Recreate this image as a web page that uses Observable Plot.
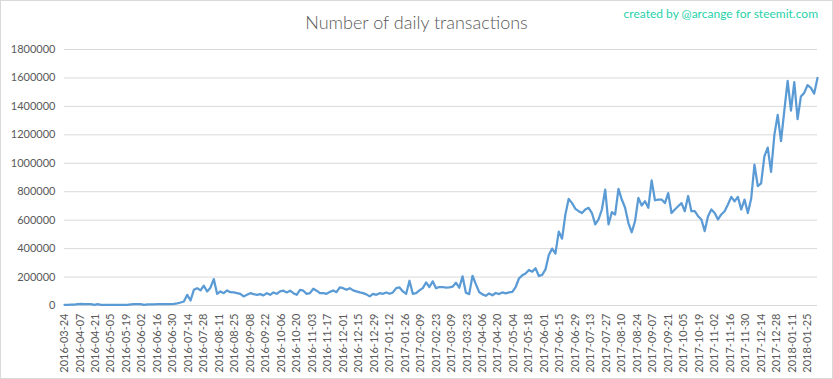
<!DOCTYPE html>
<html>
<head>
<meta charset="utf-8">
<script src="https://cdn.jsdelivr.net/npm/d3@7"></script>
<script src="https://cdn.jsdelivr.net/npm/@observablehq/plot@0.6"></script>
<style>
  html, body { margin: 0; padding: 0; background: #fff; }
  #chart { position: relative; width: 833px; height: 379px; overflow: hidden; font-family: Lato, "Open Sans", sans-serif; }
  #frame { position: absolute; inset: 0; border: 1px solid #d9d9d9; box-sizing: border-box; pointer-events: none; }
  #header { position: relative; height: 40px; }
  #title { position: absolute; left: 0; right: 0; top: 11px; text-align: center; font-size: 18px; font-weight: 300; color: #595959; }
  #credit { position: absolute; right: 15px; top: 6px; font-size: 12px; color: #1fd2a9; }
  svg { display: block; }
</style>
</head>
<body>
<div id="chart">
  <div id="header">
    <div id="title">Number of daily transactions</div>
    <div id="credit">created by @arcange for steemit.com</div>
  </div>
  <div id="plot"></div>
  <div id="frame"></div>
</div>
<script>
// Series: daily transactions sampled every 3 days starting 2016-03-24
const startDate = "2016-03-24";
const stepDays = 3;
const transactions = [
  5000,5000,6000,6000,10000,11000,10000,9000,10000,5000,
  9000,4000,4000,4000,4000,4000,4000,4000,5000,5000,
  8000,10000,10000,9000,5000,8000,8000,8000,9000,9000,
  9000,9000,10000,12000,
  15000,21000,28000,75000,35000,110000,122000,106000,139000,99000,
  125000,186000,82000,99000,87000,106000,94000,92000,87000,82000,
  64000,75000,87000,80000,75000,80000,71000,87000,75000,92000,
  82000,99000,104000,92000,104000,87000,75000,110000,104000,82000,
  87000,118000,104000,87000,
  87000,82000,96000,106000,94000,127000,122000,110000,122000,106000,
  99000,92000,87000,78000,64000,82000,75000,87000,82000,92000,
  82000,92000,122000,127000,99000,82000,174000,82000,87000,106000,
  122000,162000,130000,170000,122000,130000,
  130000,125000,128000,132000,160000,125000,205000,90000,80000,209000,
  150000,95000,78000,68000,85000,72000,88000,80000,92000,85000,
  92000,95000,130000,190000,212000,225000,250000,238000,262000,207000,
  215000,254000,355000,400000,365000,520000,470000,640000,750000,
  720000,680000,663000,650000,675000,687000,650000,570000,605000,675000,
  815000,570000,656000,640000,820000,745000,687000,580000,515000,593000,
  757000,703000,733000,687000,880000,740000,745000,745000,720000,790000,
  650000,675000,698000,720000,663000,770000,663000,663000,628000,605000,
  523000,628000,675000,650000,605000,640000,663000,710000,764000,733000,
  764000,675000,745000,650000,750000,990000,840000,858000,1050000,1110000,
  940000,1200000,1340000,1155000,1370000,1580000,1370000,1570000,1310000,1470000,
  1495000,1550000,1530000,1490000,1600000
];

const xTickLabels = [
  "2016-03-24","2016-04-07","2016-04-21","2016-05-05","2016-05-19","2016-06-02","2016-06-16",
  "2016-06-30","2016-07-14","2016-07-28","2016-08-11","2016-08-25","2016-09-08","2016-09-22",
  "2016-10-06","2016-10-20","2016-11-03","2016-11-17","2016-12-01","2016-12-15","2016-12-29",
  "2017-01-12","2017-01-26","2017-02-09","2017-02-23","2017-03-09","2017-03-23","2017-04-06",
  "2017-04-20","2017-05-04","2017-05-18","2017-06-01","2017-06-15","2017-06-29","2017-07-13",
  "2017-07-27","2017-08-10","2017-08-24","2017-09-07","2017-09-21","2017-10-05","2017-10-19",
  "2017-11-02","2017-11-16","2017-11-30","2017-12-14","2017-12-28","2018-01-11","2018-01-25"
];

const yTicks = [0,200000,400000,600000,800000,1000000,1200000,1400000,1600000,1800000];

const start = new Date(startDate + "T00:00:00Z");
const data = transactions.map((v, i) => ({date: d3.utcDay.offset(start, i * stepDays), value: v}));
const xTicks = xTickLabels.map(s => new Date(s + "T00:00:00Z"));

const chart = Plot.plot({
  width: 833,
  height: 339,
  marginTop: 9,
  marginBottom: 74,
  marginLeft: 64,
  marginRight: 16,
  style: {color: "#595959", fontFamily: "Lato, 'Open Sans', sans-serif", background: "transparent"},
  x: {type: "utc", domain: [data[0].date, data[data.length - 1].date]},
  y: {domain: [0, 1800000]},
  marks: [
    Plot.gridY(yTicks, {stroke: "#d9d9d9", strokeOpacity: 1}),
    Plot.axisY(yTicks, {tickSize: 0, tickPadding: 9, fontSize: 11, tickFormat: d => String(d), label: null}),
    Plot.axisX(xTicks, {tickSize: 0, tickPadding: 8, tickRotate: -90, fontSize: 11, tickFormat: d3.utcFormat("%Y-%m-%d"), label: null}),
    Plot.line(data, {x: "date", y: "value", stroke: "#5b9bd5", strokeWidth: 2.25, strokeLinejoin: "round"})
  ]
});
document.getElementById("plot").appendChild(chart);
</script>
</body>
</html>
